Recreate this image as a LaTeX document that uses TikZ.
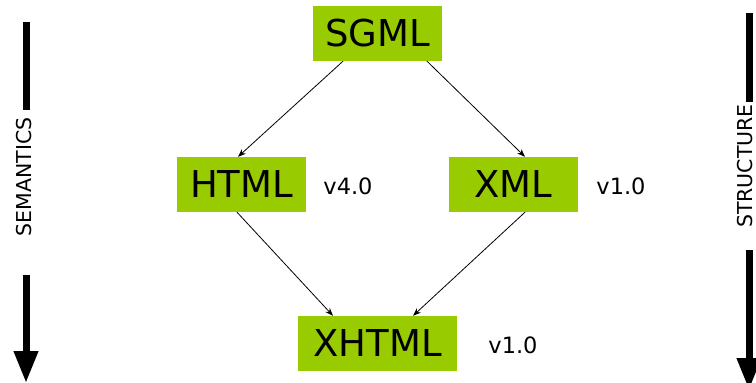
\documentclass[tikz,border=0pt]{standalone}
\usepackage{fontspec}
\setmainfont{DejaVu Sans}
\usetikzlibrary{arrows.meta}
\definecolor{boxgreen}{RGB}{153,204,0}
\tikzset{
  lang/.style={fill=boxgreen, inner sep=0pt, minimum height=55pt,
    font=\fontsize{37}{42}\selectfont, text=black},
  ver/.style={font=\fontsize{22.5}{26}\selectfont, text=black},
  side/.style={font=\fontsize{20.5}{24}\selectfont, rotate=90, inner sep=0pt},
  link/.style={draw=black, line width=0.8pt, -{Stealth[length=8pt,width=6pt]}},
  bigarrow/.style={draw=black, line width=7pt},
}
\begin{document}
\begin{tikzpicture}[x=1pt,y=-1pt]
\useasboundingbox (0,0) rectangle (756,383);
\clip (0,0) rectangle (756,383);

% language boxes
\node[lang, minimum width=129pt] (sgml)  at (377.5,33.5)  {SGML};
\node[lang, minimum width=129pt] (html)  at (241.5,184.5) {HTML};
\node[lang, minimum width=129pt] (xml)   at (513.5,184.5) {XML};
\node[lang, minimum width=159pt] (xhtml) at (377.5,343.5) {XHTML};

% version labels
\node[ver] (vhtml)  at (348,186) {v4.0};
\node[ver] (vxml)   at (621,186) {v1.0};
\node[ver] (vxhtml) at (513,345) {v1.0};

% derivation links
\draw[link] ([xshift=-34.5pt]sgml.south) -- ([xshift=-3.5pt]html.north);
\draw[link] ([xshift=49.5pt]sgml.south)  -- ([xshift=11.5pt]xml.north);
\draw[link] ([xshift=-4.5pt]html.south)  -- ([xshift=-44.5pt]xhtml.north);
\draw[link] ([xshift=11.5pt]xml.south)   -- ([xshift=35.5pt]xhtml.north);

% left scale: semantics
\node[side] (sem) at (24,177) {SEMANTICS};
\coordinate (semtop) at (26,22);
\coordinate (semmid) at (26,110);
\coordinate (semlow) at (26,275);
\coordinate (semtip) at (26,383);
\draw[bigarrow] (semtop) -- (semmid);
\draw[bigarrow, -{Triangle[width=23pt,length=32pt]}] (semlow) -- (semtip);

% right scale: structure
\node[side] (str) at (745,166) {STRUCTURE};
\coordinate (strtop) at (749,13);
\coordinate (strmid) at (749,102);
\coordinate (strlow) at (749,250);
\coordinate (strtip) at (749,390);
\draw[bigarrow] (strtop) -- (strmid);
\draw[bigarrow, -{Triangle[width=23pt,length=32pt]}] (strlow) -- (strtip);
\end{tikzpicture}
\end{document}
